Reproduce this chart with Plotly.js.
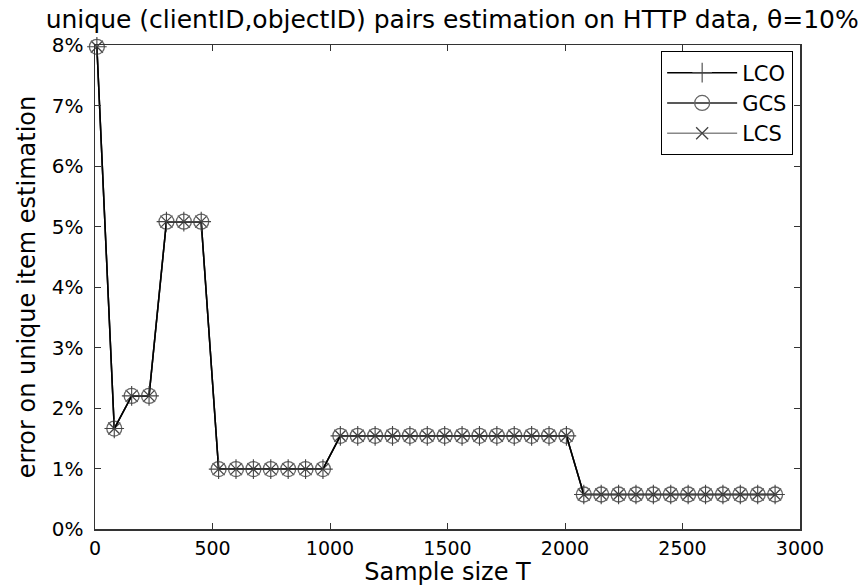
<!DOCTYPE html>
<html>
<head>
<meta charset="utf-8">
<script src="https://cdn.plot.ly/plotly-3.0.1.min.js"></script>
<style>html,body{margin:0;padding:0;background:#fff;}#chart{width:868px;height:586px;}</style>
</head>
<body>
<div id="chart"></div>
<script>
// Sample sizes T
var sampleSize = [8,82,156,230,304,378,452,526,600,674,748,822,896,970,1044,1118,1192,1266,1340,1414,1488,1562,1636,1710,1784,1858,1932,2006,2080,2154,2228,2302,2376,2450,2524,2598,2672,2746,2820,2894];
// error on unique item estimation (fraction)
var lcoErr = [0.0797,0.0166,0.0220,0.0220,0.0508,0.0508,0.0508,0.0099,0.0099,0.0099,0.0099,0.0099,0.0099,0.0099,0.0154,0.0154,0.0154,0.0154,0.0154,0.0154,0.0154,0.0154,0.0154,0.0154,0.0154,0.0154,0.0154,0.0154,0.0057,0.0057,0.0057,0.0057,0.0057,0.0057,0.0057,0.0057,0.0057,0.0057,0.0057,0.0057];
var gcsErr = [0.0797,0.0166,0.0220,0.0220,0.0508,0.0508,0.0508,0.0099,0.0099,0.0099,0.0099,0.0099,0.0099,0.0099,0.0154,0.0154,0.0154,0.0154,0.0154,0.0154,0.0154,0.0154,0.0154,0.0154,0.0154,0.0154,0.0154,0.0154,0.0057,0.0057,0.0057,0.0057,0.0057,0.0057,0.0057,0.0057,0.0057,0.0057,0.0057,0.0057];
var lcsErr = [0.0797,0.0166,0.0220,0.0220,0.0508,0.0508,0.0508,0.0099,0.0099,0.0099,0.0099,0.0099,0.0099,0.0099,0.0154,0.0154,0.0154,0.0154,0.0154,0.0154,0.0154,0.0154,0.0154,0.0154,0.0154,0.0154,0.0154,0.0154,0.0057,0.0057,0.0057,0.0057,0.0057,0.0057,0.0057,0.0057,0.0057,0.0057,0.0057,0.0057];
var seriesNames = ["LCO","GCS","LCS"];
var yTickVals = [0,0.01,0.02,0.03,0.04,0.05,0.06,0.07,0.08];
var yTickText = ["0%","1%","2%","3%","4%","5%","6%","7%","8%"];
var xTickVals = [0,500,1000,1500,2000,2500,3000];

var FONT = "DejaVu Sans, Liberation Sans, Arial, sans-serif";

var traces = [
  {x: sampleSize, y: lcsErr, name: seriesNames[2], type: "scatter", mode: "lines+markers", legendrank: 3, cliponaxis: false,
   line: {color: "#888", width: 1.5},
   marker: {symbol: "x-thin", size: 12, color: "#444", line: {color: "#444", width: 1.3}}},
  {x: sampleSize, y: gcsErr, name: seriesNames[1], type: "scatter", mode: "lines+markers", legendrank: 2, cliponaxis: false,
   line: {color: "#222", width: 1.5},
   marker: {symbol: "circle-open", size: 15, color: "#666", line: {color: "#666", width: 1.3}}},
  {x: sampleSize, y: lcoErr, name: seriesNames[0], type: "scatter", mode: "lines+markers", legendrank: 1, cliponaxis: false,
   line: {color: "#000", width: 1.5},
   marker: {symbol: "cross-thin", size: 14, color: "#444", line: {color: "#444", width: 1.1}}}
];

var layout = {
  width: 868, height: 586,
  margin: {l: 95, r: 68, t: 45, b: 57},
  paper_bgcolor: "#fff", plot_bgcolor: "#fff",
  font: {family: FONT, color: "#000", size: 20},
  title: {text: "unique (clientID,objectID) pairs estimation on HTTP data, θ=10%",
          font: {family: FONT, size: 25, color: "#000"},
          x: 0.521, xref: "container", xanchor: "center", y: 0.968, yref: "container", yanchor: "middle"},
  xaxis: {range: [0, 3000], tickvals: xTickVals, ticks: "inside", ticklen: 6, tickcolor: "#333",
          showline: true, linecolor: "#333", linewidth: 1.5, mirror: "ticks", showgrid: false, zeroline: false,
          tickfont: {family: FONT, size: 19}, ticklabelstandoff: 2,
          title: {text: "Sample size T", font: {family: FONT, size: 24}, standoff: 0}},
  yaxis: {range: [0, 0.08], tickvals: yTickVals, ticktext: yTickText, ticks: "inside", ticklen: 6, tickcolor: "#333",
          showline: true, linecolor: "#333", linewidth: 1.5, mirror: "ticks", showgrid: false, zeroline: false,
          tickfont: {family: FONT, size: 20}, ticklabelstandoff: 6,
          title: {text: "error on unique item estimation", font: {family: FONT, size: 24}, standoff: 9}},
  showlegend: true,
  legend: {x: 0.99, xanchor: "right", y: 0.987, yanchor: "top", bgcolor: "#fff", bordercolor: "#000", borderwidth: 1.2,
           font: {family: FONT, size: 21}, tracegroupgap: 0, itemwidth: 70}
};

Plotly.newPlot("chart", traces, layout, {displayModeBar: false, staticPlot: true});
</script>
</body>
</html>
